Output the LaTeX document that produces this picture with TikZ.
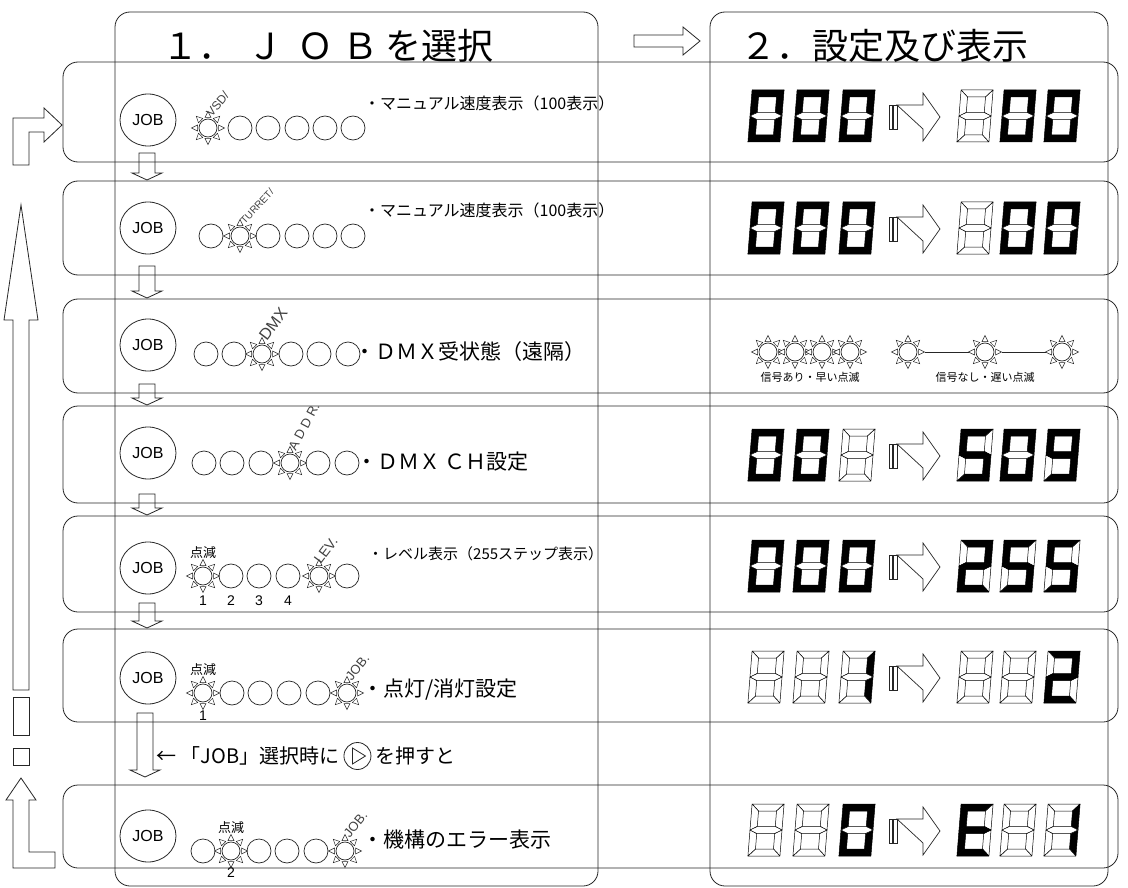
\documentclass[tikz,border=0pt]{standalone}
\usepackage{fontspec}
\setmainfont{Liberation Sans}
\newfontfamily\jpf{Noto Sans CJK JP}
\usetikzlibrary{calc,positioning,shapes.geometric}
\newcommand\fsz[1]{\fontsize{#1}{#1}\selectfont}
\newcommand\sgm[2]{\ifnum#1=1 \filldraw[segon] #2; \else \filldraw[segoff] #2; \fi}
\newcommand\sdig[9]{\begin{scope}[shift={(#1,#2)},xslant=0.08]
 \sgm{#3}{(-16,-26)--(16,-26)--(9,-19)--(-9,-19)--cycle}
 \sgm{#4}{(16,-26)--(16,0)--(9,-3.5)--(9,-19)--cycle}
 \sgm{#5}{(16,0)--(16,26)--(9,19)--(9,3.5)--cycle}
 \sgm{#6}{(-16,26)--(-9,19)--(9,19)--(16,26)--cycle}
 \sgm{#7}{(-16,0)--(-9,3.5)--(-9,19)--(-16,26)--cycle}
 \sgm{#8}{(-16,-26)--(-9,-19)--(-9,-3.5)--(-16,0)--cycle}
 \sgm{#9}{(-16,0)--(-9,-3.5)--(9,-3.5)--(16,0)--(9,3.5)--(-9,3.5)--cycle}
\end{scope}}
\newcommand\dgZero[2]{\sdig{#1}{#2}{1}{1}{1}{1}{1}{1}{0}}
\newcommand\dgOne[2]{\sdig{#1}{#2}{0}{1}{1}{0}{0}{0}{0}}
\newcommand\dgTwo[2]{\sdig{#1}{#2}{1}{1}{0}{1}{1}{0}{1}}
\newcommand\dgFive[2]{\sdig{#1}{#2}{1}{0}{1}{1}{0}{1}{1}}
\newcommand\dgNine[2]{\sdig{#1}{#2}{1}{1}{1}{1}{0}{1}{1}}
\newcommand\dgE[2]{\sdig{#1}{#2}{1}{0}{0}{1}{1}{1}{1}}
\newcommand\dgOff[2]{\sdig{#1}{#2}{0}{0}{0}{0}{0}{0}{0}}
\newcommand\dgarr[1]{%
 \draw[ln,line width=0.5pt] (889,#1-12) rectangle (892.5,#1+12);
 \draw[ln,line width=0.5pt] (893.5,#1-12) rectangle (897,#1+12);
 \draw[ln,line width=0.7pt] (897,#1-12) -- (923,#1-12) -- (923,#1-24) -- (940,#1) -- (923,#1+24) -- (923,#1+12) -- cycle;}
\newcommand\starled[3]{\node[sl] (#1) at (#2,#3) {};
 \foreach \a in {0,45,...,315}{\draw[ln,line width=0.5pt,fill=white] ($(#1.center)+(\a:10.5)+(\a+90:3)$) -- ($(#1.center)+(\a:16.5)$) -- ($(#1.center)+(\a:10.5)+(\a-90:3)$) -- cycle;}}
\newcommand\pled[3]{\node[pl] (#1) at (#2,#3) {};}
\newcommand\dnarr[3]{\draw[ln] (#1-8,#2) -- (#1+8,#2) -- (#1+8,#3-7) -- (#1+15,#3-7) -- (#1,#3) -- (#1-15,#3-7) -- (#1-8,#3-7) -- cycle;}
\begin{document}
\begin{tikzpicture}[x=1pt,y=-1pt,
  ln/.style={draw=black!85,line width=0.8pt},
  box/.style={ln,rounded corners=15pt},
  segon/.style={fill=black,draw=black,line width=0.5pt,line join=round},
  segoff/.style={fill=white,draw=black,line width=0.5pt,line join=round},
  jobc/.style={ellipse,ln,minimum width=56pt,minimum height=52pt,inner sep=0,font=\fsz{16}},
  pl/.style={circle,ln,line width=0.7pt,minimum size=24pt,inner sep=0},
  sl/.style={circle,ln,line width=0.7pt,minimum size=18pt,inner sep=0},
  lab/.style={inner sep=0,text=black!75,anchor=south west},
  jt/.style={inner sep=0,anchor=west,font=\jpf\fsz{#1}},
]
\useasboundingbox (0,0) rectangle (1128,888);
\fill[white] (0,0) rectangle (1128,888);
% columns
\draw[box] (115,12) rectangle (598,886);
\draw[box] (710,12) rectangle (1108,886);
\node[jt=36] (title1) at (162,46) {１．\kern13ptＪ\kern14ptＯ\kern9ptＢ\kern7ptを選択};
\node[jt=36] (title2) at (740,46) {２．設定及び表示};
\draw[ln] (634,35)--(683,35)--(683,27)--(700,41)--(683,55)--(683,47)--(634,47)--cycle;
% rows
\foreach \t/\b in {62/162,181/275,299/393,406/503,516/612,629/722,785/868}
  \draw[box] (63,\t) rectangle (1118,\b);
% down arrows
\dnarr{147}{153}{180}
\dnarr{147}{266}{298}
\dnarr{147}{384}{405}
\dnarr{147}{494}{515}
\dnarr{147}{603}{628}
\dnarr{145}{713}{777}
% left loop
\draw[ln] (13,165)--(13,118)--(44,118)--(44,108)--(62,125)--(44,142)--(44,132)--(29,132)--(29,165)--cycle;
\draw[ln] (21,205)--(38,320)--(29,320)--(29,690)--(13,690)--(13,320)--(4,320)--cycle;
\draw[ln] (13,697) rectangle (29,735);
\draw[ln] (13,748) rectangle (29,765);
\draw[ln] (21,778)--(36,800)--(29,800)--(29,852)--(55,852)--(55,868)--(13,868)--(13,800)--(6,800)--cycle;
% JOB buttons
\foreach \n/\y in {1/120,2/228,3/345,4/453,5/568,6/678,7/836}
  \node[jobc] (job\n) at (148,\y) {JOB};
% row 1
\starled{ra1}{208}{128} \pled{ra2}{240}{128} \pled{ra3}{268}{128} \pled{ra4}{297}{128} \pled{ra5}{325}{128} \pled{ra6}{353}{128}
\node[lab,rotate=50,font=\fsz{12}] (lvsd) at (212,118) {VSD/};
\node[jt=16] (txt1) at (364,103) {・マニュアル速度表示（100表示）};
% row 2
\pled{rb1}{211}{236} \starled{rb2}{240}{236} \pled{rb3}{268}{236} \pled{rb4}{297}{236} \pled{rb5}{325}{236} \pled{rb6}{353}{236}
\node[lab,rotate=47,font=\fsz{10}] (ltur) at (245,225) {TURRET/};
\node[jt=16] (txt2) at (364,210) {・マニュアル速度表示（100表示）};
% row 3
\pled{rc1}{206}{354} \pled{rc2}{234}{354} \starled{rc3}{262}{354} \pled{rc4}{291}{354} \pled{rc5}{319}{354} \pled{rc6}{348}{354}
\node[lab,rotate=53,font=\fsz{16}] (ldmx) at (267,342) {DMX};
\node[jt=21] (txt3) at (354,352) {・ＤＭＸ受状態（遠隔）};
% row 4
\pled{rd1}{204}{463} \pled{rd2}{232}{463} \pled{rd3}{261}{463} \starled{rd4}{290}{463} \pled{rd5}{318}{463} \pled{rd6}{347}{463}
\node[lab,rotate=62,font=\fsz{13}] (laddr) at (296,452) {A D D R.};
\node[jt=21] (txt4) at (356,462) {・ＤＭＸ ＣＨ設定};
% row 5
\starled{re1}{203}{576} \pled{re2}{231}{576} \pled{re3}{259}{576} \pled{re4}{288}{576} \starled{re5}{319}{576} \pled{re6}{347}{576}
\node[lab,rotate=53,font=\fsz{14}] (llev) at (321,565) {LEV.};
\node[inner sep=0,font=\jpf\fsz{13}] (tm5) at (203,553) {点減};
\foreach \i/\x in {1/203,2/231,3/259,4/288}
  \node[inner sep=0,font=\fsz{14}] (n5\i) at (\x,601) {\i};
\node[jt=15] (txt5) at (368,554) {・レベル表示（255ステップ表示）};
% row 6
\starled{rf1}{203}{693} \pled{rf2}{232}{693} \pled{rf3}{260}{693} \pled{rf4}{289}{693} \pled{rf5}{318}{693} \starled{rf6}{347}{693}
\node[lab,rotate=51,font=\fsz{13}] (ljob6) at (352,682) {JOB.};
\node[inner sep=0,font=\jpf\fsz{13}] (tm6) at (203,670) {点減};
\node[inner sep=0,font=\fsz{14}] (n61) at (203,716) {1};
\node[jt=21] (txt6) at (362,690) {・点灯/消灯設定};
% between rows 6 and 7
\node[jt=20] (tb1) at (156,756) {← 「JOB」選択時に};
\node[circle,ln,minimum size=27pt,inner sep=0,right=4pt of tb1] (play) {};
\draw[ln] ($(play.center)+(-5,-8)$) -- ($(play.center)+(8,0)$) -- ($(play.center)+(-5,8)$) -- cycle;
\node[jt=20,right=4pt of play] (tb2) {を押すと};
% row 7
\pled{rg1}{203}{851} \starled{rg2}{231}{851} \pled{rg3}{259}{851} \pled{rg4}{287}{851} \pled{rg5}{316}{851} \starled{rg6}{345}{851}
\node[lab,rotate=51,font=\fsz{13}] (ljob7) at (350,839) {JOB.};
\node[inner sep=0,font=\jpf\fsz{13}] (tm7) at (231,828) {点減};
\node[inner sep=0,font=\fsz{14}] (n72) at (231,873) {2};
\node[jt=21] (txt7) at (362,840) {・機構のエラー表示};
% right column displays
\dgZero{766}{116} \dgZero{811}{116} \dgZero{857}{116} \dgarr{117}
\dgOff{975}{116} \dgZero{1018}{116} \dgZero{1062}{116}
\dgZero{766}{228} \dgZero{811}{228} \dgZero{857}{228} \dgarr{229}
\dgOff{975}{228} \dgZero{1018}{228} \dgZero{1062}{228}
\dgZero{766}{455} \dgZero{811}{455} \dgOff{857}{455} \dgarr{456}
\dgFive{975}{455} \dgZero{1018}{455} \dgNine{1062}{455}
\dgZero{766}{566} \dgZero{811}{566} \dgZero{857}{566} \dgarr{567}
\dgTwo{975}{566} \dgFive{1018}{566} \dgFive{1062}{566}
\dgOff{766}{677} \dgOff{811}{677} \dgOne{857}{677} \dgarr{678}
\dgOff{975}{677} \dgOff{1018}{677} \dgTwo{1062}{677}
\dgOff{766}{830} \dgOff{811}{830} \dgZero{857}{830} \dgarr{831}
\dgE{975}{830} \dgOff{1018}{830} \dgOne{1062}{830}
% DMX signal indicators
\starled{sa1}{768}{352} \starled{sa2}{795}{352} \starled{sa3}{822}{352} \starled{sa4}{850}{352}
\starled{sb1}{908}{352} \starled{sb2}{985}{352} \starled{sb3}{1062}{352}
\draw[ln] ($(sb1.center)+(16.5,0)$) -- ($(sb2.center)+(-16.5,0)$);
\draw[ln] ($(sb2.center)+(16.5,0)$) -- ($(sb3.center)+(-16.5,0)$);
\node[inner sep=0,font=\jpf\fsz{11}] (sig1) at (810,377) {信号あり・早い点滅};
\node[inner sep=0,font=\jpf\fsz{11}] (sig2) at (985,377) {信号なし・遅い点滅};
\end{tikzpicture}
\end{document}
